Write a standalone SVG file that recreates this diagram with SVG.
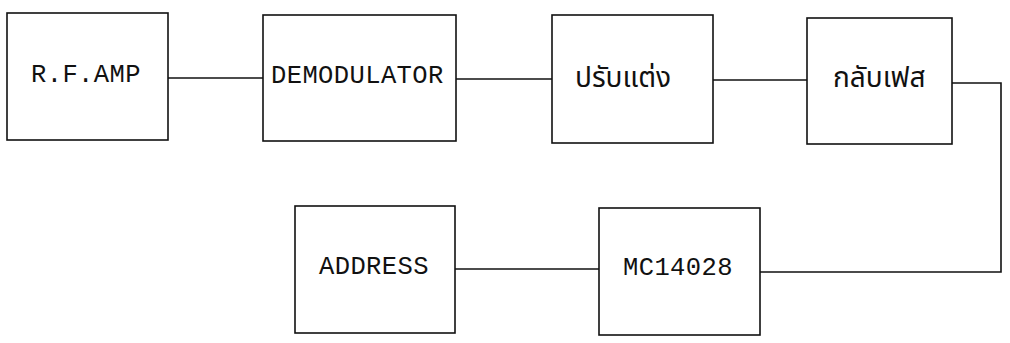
<svg xmlns="http://www.w3.org/2000/svg" width="1010" height="343" viewBox="0 0 1010 343">
<style>
.box{fill:#fff;stroke:#111;stroke-width:1.6}
.wire{fill:none;stroke:#111;stroke-width:1.6}
.lbl{font-family:"Liberation Mono","DejaVu Sans Mono",monospace;font-size:25.5px;letter-spacing:0.4px;fill:#111}
.th{font-family:"Noto Sans Thai","Noto Sans","DejaVu Sans",sans-serif;font-size:28px;fill:#111}
</style>
<rect width="1010" height="343" fill="#fff"/>
<g id="connectors">
<path class="wire" d="M168 78H263"/>
<path class="wire" d="M456 79H552"/>
<path class="wire" d="M713 80H807"/>
<path class="wire" d="M952 83H1001V272H760"/>
<path class="wire" d="M455 269H599"/>
</g>
<g id="rfamp">
<rect class="box" x="7" y="13" width="161" height="127"/>
<text class="lbl" x="31" y="82">R.F.AMP</text>
</g>
<g id="demodulator">
<rect class="box" x="263" y="15" width="193" height="126"/>
<text class="lbl" x="271" y="83">DEMODULATOR</text>
</g>
<g id="prapdaeng">
<rect class="box" x="552" y="15" width="161" height="128"/>
<text class="th" x="575" y="87">ปรับแต่ง</text>
</g>
<g id="klapphet">
<rect class="box" x="807" y="18" width="145" height="126"/>
<text class="th" x="833" y="87">กลับเฟส</text>
</g>
<g id="address">
<rect class="box" x="295" y="206" width="160" height="127"/>
<text class="lbl" x="319" y="274">ADDRESS</text>
</g>
<g id="mc14028">
<rect class="box" x="599" y="208" width="161" height="127"/>
<text class="lbl" x="623" y="275">MC14028</text>
</g>
</svg>
